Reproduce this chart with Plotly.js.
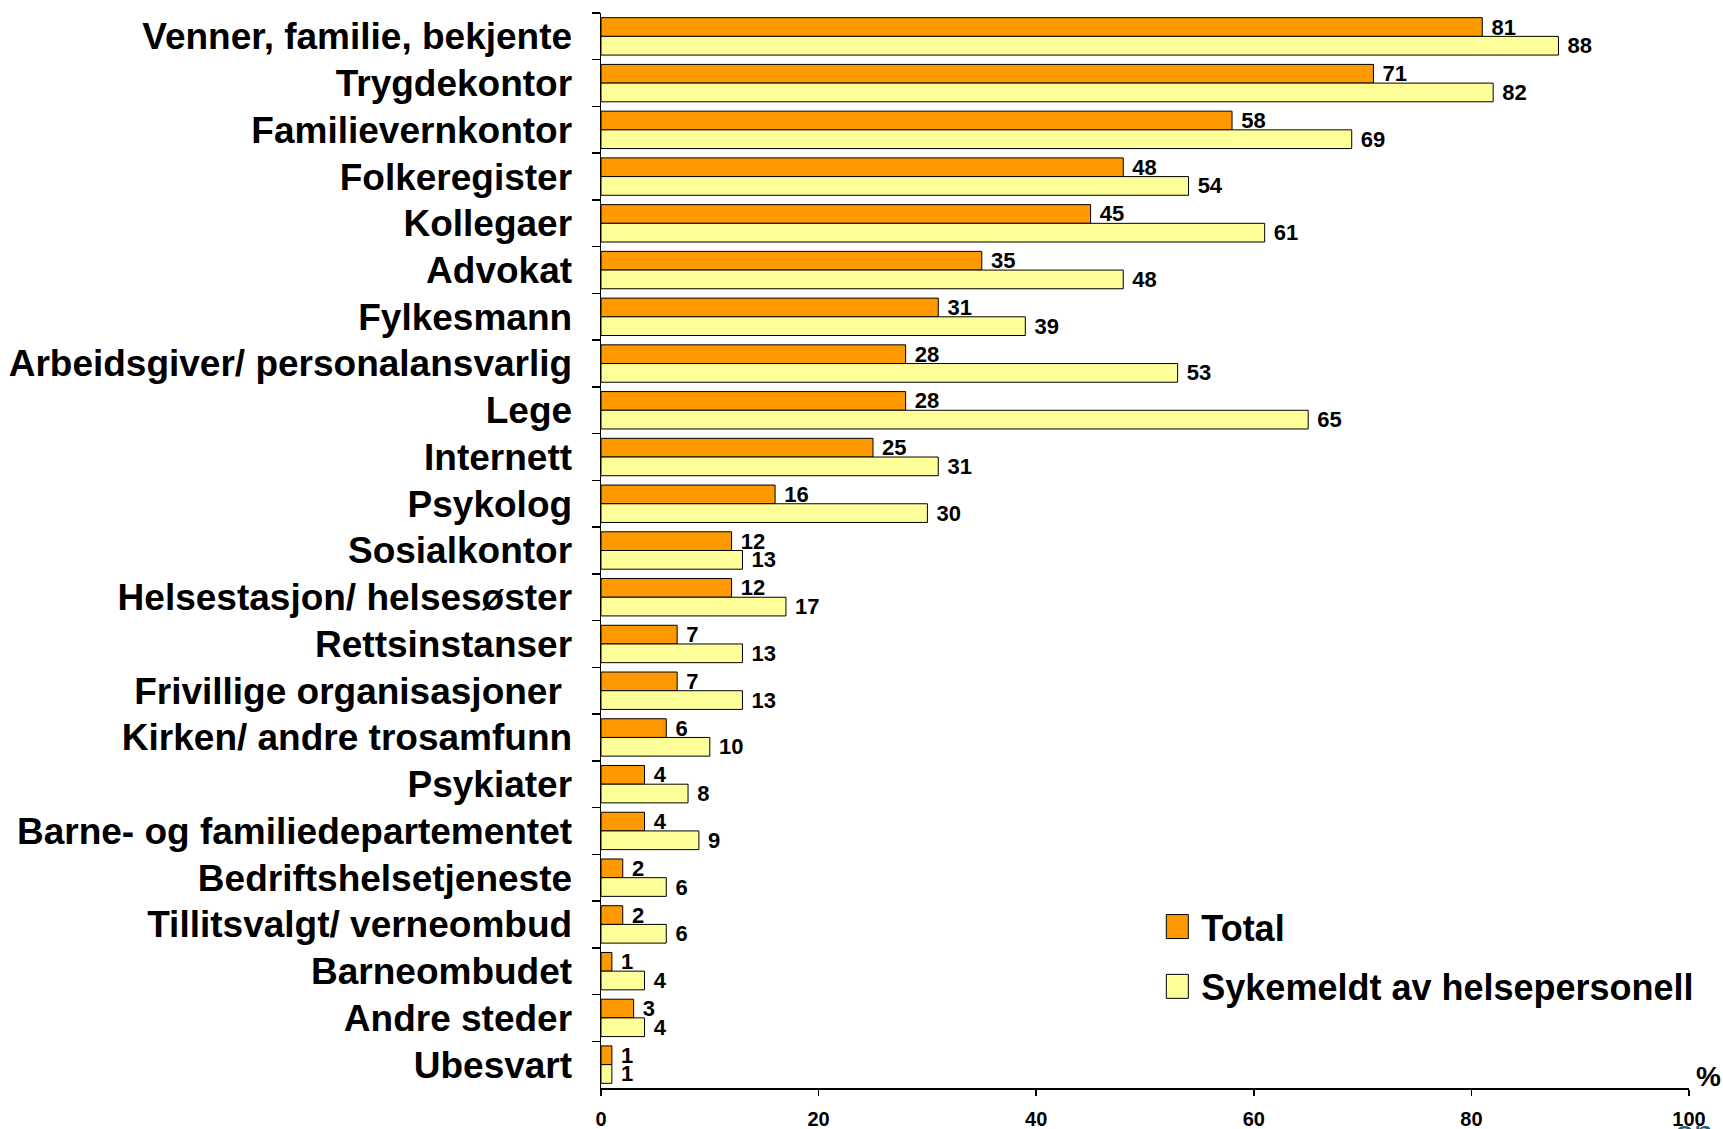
<!DOCTYPE html>
<html>
<head>
<meta charset="utf-8">
<script src="https://cdn.plot.ly/plotly-3.0.1.min.js"></script>
<style>
  html, body { margin: 0; padding: 0; background: #ffffff; }
  #chart { width: 1723px; height: 1129px; }
</style>
</head>
<body>
<div id="chart"></div>
<script>
const categories = [
  "Venner, familie, bekjente",
  "Trygdekontor",
  "Familievernkontor",
  "Folkeregister",
  "Kollegaer",
  "Advokat",
  "Fylkesmann",
  "Arbeidsgiver/ personalansvarlig",
  "Lege",
  "Internett",
  "Psykolog",
  "Sosialkontor",
  "Helsestasjon/ helsesøster",
  "Rettsinstanser",
  "Frivillige organisasjoner ",
  "Kirken/ andre trosamfunn",
  "Psykiater",
  "Barne- og familiedepartementet",
  "Bedriftshelsetjeneste",
  "Tillitsvalgt/ verneombud",
  "Barneombudet",
  "Andre steder",
  "Ubesvart"
];
const totalValues = [81, 71, 58, 48, 45, 35, 31, 28, 28, 25, 16, 12, 12, 7, 7, 6, 4, 4, 2, 2, 1, 3, 1];
const sykemeldtValues = [88, 82, 69, 54, 61, 48, 39, 53, 65, 31, 30, 13, 17, 13, 13, 10, 8, 9, 6, 6, 4, 4, 1];
const seriesNames = ["Total", "Sykemeldt av helsepersonell"];
const xTickValues = [0, 20, 40, 60, 80, 100];

const FONT = "'Liberation Sans', Arial, sans-serif";

const traces = [
  {
    type: "bar", orientation: "h", name: seriesNames[0], legendgroup: "g1",
    y: categories, x: totalValues,
    marker: { color: "#FF9900", line: { color: "#000000", width: 1 } },
    text: totalValues.map(v => "\u00a0" + v), textposition: "outside", cliponaxis: false,
    constraintext: "none",
    textfont: { family: FONT, size: 22, weight: "bold", color: "#000000" },
    hoverinfo: "x+y"
  },
  {
    type: "bar", orientation: "h", name: seriesNames[1], legendgroup: "g2",
    y: categories, x: sykemeldtValues,
    marker: { color: "#FFFF99", line: { color: "#000000", width: 1 } },
    text: sykemeldtValues.map(v => "\u00a0" + v), textposition: "outside", cliponaxis: false,
    constraintext: "none",
    textfont: { family: FONT, size: 22, weight: "bold", color: "#000000" },
    hoverinfo: "x+y"
  }
];

const layout = {
  width: 1723, height: 1129,
  margin: { l: 601, r: 34, t: 13, b: 41, autoexpand: false },
  paper_bgcolor: "#ffffff", plot_bgcolor: "#ffffff",
  font: { family: FONT, color: "#000000" },
  barmode: "group", bargap: 0.2, bargroupgap: 0,
  showlegend: true,
  legend: {
    x: 0.515, y: 0.178, xanchor: "left", yanchor: "top",
    font: { family: FONT, size: 36, weight: "bold", color: "#000000" },
    bgcolor: "rgba(0,0,0,0)", traceorder: "grouped", tracegroupgap: 10,
    itemwidth: 30
  },
  xaxis: {
    range: [0, 100], tickvals: xTickValues, ticktext: xTickValues.map(String),
    showgrid: false, zeroline: false,
    showline: true, linecolor: "#000000", linewidth: 1.5,
    ticks: "outside", ticklen: 6, tickcolor: "#000000", tickwidth: 1.5,
    ticklabelstandoff: 6,
    tickfont: { family: FONT, size: 20, weight: "bold", color: "#000000" },
    automargin: false, fixedrange: true
  },
  yaxis: {
    type: "category", categoryorder: "array", categoryarray: categories,
    autorange: "reversed",
    showgrid: false, zeroline: false,
    showline: true, linecolor: "#000000", linewidth: 1.5,
    ticks: "outside", tickson: "boundaries", ticklen: 8, tickcolor: "#000000", tickwidth: 1.5,
    ticklabelstandoff: 20,
    tickfont: { family: FONT, size: 37, weight: "bold", color: "#000000" },
    automargin: false, fixedrange: true
  },
  annotations: [
    {
      xref: "paper", yref: "paper", x: 1.005, y: -0.006, xanchor: "left", yanchor: "bottom",
      text: "%", showarrow: false,
      font: { family: FONT, size: 28, weight: "bold", color: "#000000" }
    },
    {
      xref: "paper", yref: "paper", x: 0.986, y: -0.022, xanchor: "left", yanchor: "top",
      text: "on", showarrow: false, borderpad: 0,
      font: { family: FONT, size: 34, color: "#1c5f7c" }
    }
  ]
};

Plotly.newPlot("chart", traces, layout, { displayModeBar: false, staticPlot: true }).then(gd => {
  // enlarge legend colour boxes to match the reference's square keys
  gd.querySelectorAll(".legend .legendpoints path").forEach(p => {
    p.setAttribute("d", "M7,12H-15V-12H7Z");
  });
});
</script>
</body>
</html>
